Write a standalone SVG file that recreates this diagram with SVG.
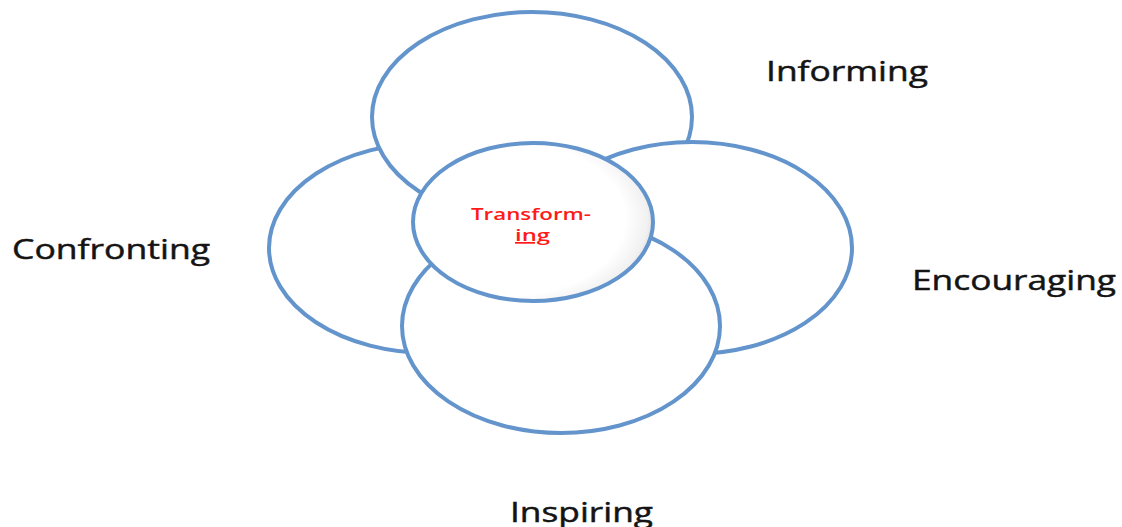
<svg xmlns="http://www.w3.org/2000/svg" width="1122" height="527" viewBox="0 0 1122 527">
  <style>
    .petal { fill: #ffffff; stroke: #6394cc; stroke-width: 4; }
    .label { font-family: "Open Sans", "Liberation Sans", sans-serif; font-size: 26.5px; fill: #141414; stroke: #141414; stroke-width: 0.45; }
    .core { font-family: "Open Sans", "Liberation Sans", sans-serif; font-size: 17px; font-weight: 600; fill: #ff1a1a; }
  </style>
  <defs>
    <radialGradient id="coreShade" cx="0.4" cy="0.48" r="0.62">
      <stop offset="0.78" stop-color="#ffffff"/>
      <stop offset="0.93" stop-color="#f1f1f1"/>
      <stop offset="1" stop-color="#d9d9d9"/>
    </radialGradient>
  </defs>
  <rect width="1122" height="527" fill="#ffffff"/>
  <g id="connectors"></g>
  <g id="confronting">
    <ellipse class="petal" cx="429" cy="248" rx="160" ry="105"/>
    <text class="label" x="12" y="259" textLength="198" lengthAdjust="spacingAndGlyphs">Confronting</text>
  </g>
  <g id="informing">
    <ellipse class="petal" cx="532" cy="117" rx="160" ry="105"/>
    <text class="label" x="766" y="80.5" textLength="162" lengthAdjust="spacingAndGlyphs">Informing</text>
  </g>
  <g id="encouraging">
    <ellipse class="petal" cx="692" cy="248" rx="160" ry="106"/>
    <text class="label" x="912" y="290" textLength="204" lengthAdjust="spacingAndGlyphs">Encouraging</text>
  </g>
  <g id="inspiring">
    <ellipse class="petal" cx="561" cy="326" rx="159" ry="107"/>
    <text class="label" x="510" y="521.5" textLength="143" lengthAdjust="spacingAndGlyphs">Inspiring</text>
  </g>
  <g id="transforming">
    <ellipse cx="533" cy="222" rx="120" ry="79" fill="url(#coreShade)" stroke="#6394cc" stroke-width="4"/>
    <text class="core" x="471" y="220" textLength="120" lengthAdjust="spacingAndGlyphs">Transform-</text>
    <text class="core" x="515" y="241" textLength="35" lengthAdjust="spacingAndGlyphs" text-decoration="underline">ing</text>
  </g>
</svg>
